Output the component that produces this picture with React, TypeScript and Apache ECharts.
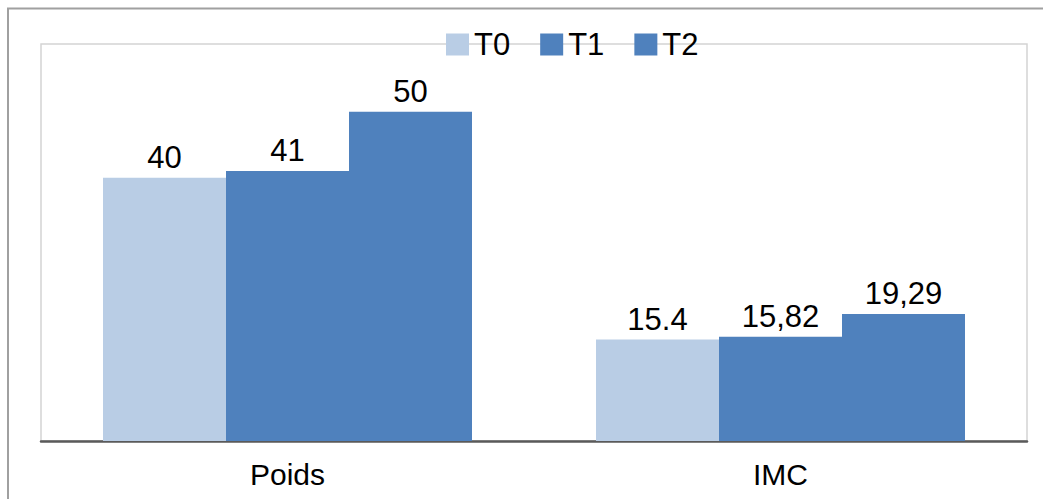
import React, { useEffect, useRef } from "react";
import * as echarts from "echarts";

const categories = ["Poids", "IMC"];
const seriesNames = ["T0", "T1", "T2"];
const t0Values = [40, 15.4];
const t1Values = [41, 15.82];
const t2Values = [50, 19.29];
const t0Labels = ["40", "15.4"];
const t1Labels = ["41", "15,82"];
const t2Labels = ["50", "19,29"];
const colors = ["#B9CDE5", "#4F81BD", "#4F81BD"];

export default function App() {
  const ref = useRef<HTMLDivElement>(null);
  useEffect(() => {
    document.body.style.margin = "0";
    const chart = echarts.init(ref.current!, null, { renderer: "svg" });
    const values = [t0Values, t1Values, t2Values];
    const labels = [t0Labels, t1Labels, t2Labels];
    const font = "'Liberation Sans', Arial, sans-serif";
    chart.setOption({
      animation: false,
      backgroundColor: "#ffffff",
      textStyle: { fontFamily: font },
      graphic: [
        {
          type: "polyline",
          shape: { points: [[8, 499], [8, 8.5], [1043, 8.5]] },
          style: { stroke: "#a0a0a0", lineWidth: 2, fill: null },
          z: 10,
        },
      ],
      legend: {
        left: 441,
        top: 24,
        itemWidth: 23,
        itemHeight: 22,
        itemGap: 30,
        icon: "rect",
        textStyle: { fontSize: 31, color: "#000", fontFamily: font },
        data: seriesNames,
      },
      grid: {
        left: 41,
        right: 16,
        top: 44,
        bottom: 58,
        show: true,
        borderColor: "#d4d4d4",
        borderWidth: 1.5,
        backgroundColor: "transparent",
      },
      xAxis: {
        type: "category",
        data: categories,
        axisLine: { show: true, lineStyle: { color: "#5a5a5a", width: 2.5 } },
        axisTick: { show: false },
        axisLabel: { fontSize: 30, color: "#000", margin: 18, fontFamily: font },
      },
      yAxis: {
        type: "value",
        min: 0,
        max: 60.3,
        show: false,
        splitLine: { show: false },
      },
      series: seriesNames.map((name, i) => ({
        name,
        type: "bar",
        barWidth: 123,
        barGap: "0%",
        itemStyle: { color: colors[i] },
        data: values[i].map((v, j) => ({
          value: v,
          label: { formatter: labels[i][j] },
        })),
        label: {
          show: true,
          position: "top",
          distance: 5,
          fontSize: 31,
          color: "#000",
          fontFamily: font,
        },
      })),
    });
    return () => chart.dispose();
  }, []);
  return (
    <div
      ref={ref}
      style={{ position: "absolute", left: 0, top: 0, width: 1043, height: 499 }}
    />
  );
}
